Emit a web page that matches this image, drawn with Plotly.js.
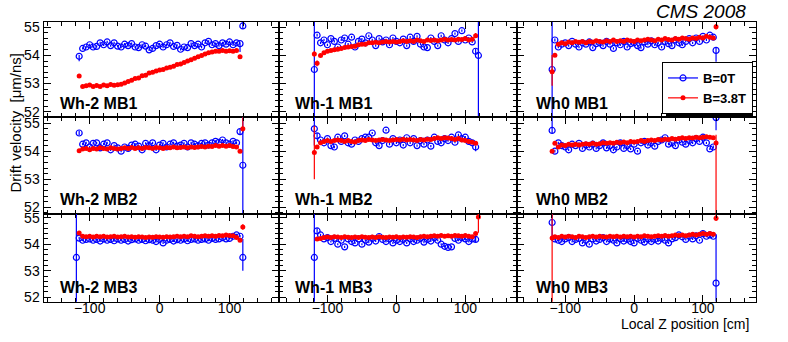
<!DOCTYPE html>
<html>
<head>
<meta charset="utf-8">
<script src="https://cdn.plot.ly/plotly-3.0.1.min.js"></script>
<style>
  html, body { margin: 0; padding: 0; background: #fff; }
  #plot { width: 788px; height: 342px; }
</style>
</head>
<body>
<div id="plot"></div>
<script>
// local z of the bins [cm]; first and last entries are the chamber edges
var zPos = [-119,
  -115, -110, -105, -100, -95, -90, -85,
  -80, -75, -70, -65, -60, -55, -50,
  -45, -40, -35, -30, -25, -20, -15,
  -10, -5, 0, 5, 10, 15, 20,
  25, 30, 35, 40, 45, 50, 55,
  60, 65, 70, 75, 80, 85, 90,
  95, 100, 105, 110, 115,
  119];

var panelNames = ['Wh-2 MB1', 'Wh-1 MB1', 'Wh0 MB1',
                  'Wh-2 MB2', 'Wh-1 MB2', 'Wh0 MB2',
                  'Wh-2 MB3', 'Wh-1 MB3', 'Wh0 MB3'];

// drift velocity [um/ns], B=0T
var b0_Wm2_MB1 = [null,
  53.97, 54.25, 54.30, 54.38, 54.30, 54.32, 54.45,
  54.38, 54.48, 54.35, 54.45, 54.33, 54.30, 54.40,
  54.35, 54.42, 54.30, 54.28, 54.38, 54.33, 54.20,
  54.25, 54.35, 54.40, 54.30, 54.38, 54.45, 54.32,
  54.36, 54.22, 54.30, 54.28, 54.42, 54.35, 54.40,
  54.30, 54.45, 54.50, 54.38, 54.42, 54.35, 54.45,
  54.40, 54.48, 54.38, 54.45, 54.42,
  55.05];
var b0_Wm1_MB1 = [53.50,
  54.72, 54.45, 54.55, 54.38, 54.60, 54.50, 54.30,
  54.55, 54.62, 54.40, 54.65, 54.30, 54.50, 54.58,
  54.45, 54.70, 54.55, 54.35, 54.60, 54.48, 54.55,
  54.38, 54.62, 54.50, 54.45, 54.58, 54.35, 54.65,
  54.50, 54.68, 54.40, 54.30, 54.28, 54.62, 54.50,
  54.35, 54.70, 54.55, 54.45, 54.60, 54.78, 54.50,
  54.88, 54.55, 54.62, 54.48, 54.15,
  54.00];
var b0_W0_MB1 = [53.50,
  54.55, 54.30, 54.40, 54.45, 54.35, 54.50, 54.40,
  54.30, 54.45, 54.40, 54.48, 54.28, 54.42, 54.45,
  54.35, 54.50, 54.40, 54.25, 54.45, 54.38, 54.50,
  54.30, 54.42, 54.45, 54.35, 54.28, 54.48, 54.40,
  54.52, 54.38, 54.45, 54.30, 54.50, 54.42, 54.35,
  54.55, 54.45, 54.38, 54.50, 54.60, 54.45, 54.62,
  54.50, 54.68, 54.55, 54.72, 54.65,
  54.18];
var b0_Wm2_MB2 = [null,
  54.65, 54.25, 54.30, 54.15, 54.28, 54.30, 54.12,
  54.25, 54.30, 54.05, 54.20, 54.12, 54.00, 54.15,
  54.10, 54.22, 54.25, 54.18, 54.05, 54.28, 54.20,
  54.30, 54.05, 54.22, 54.28, 54.15, 54.25, 54.30,
  54.18, 54.22, 54.28, 54.15, 54.30, 54.25, 54.20,
  54.28, 54.30, 54.22, 54.30, 54.35, 54.32, 54.40,
  54.30, 54.25, 54.35, 54.30, 54.70,
  53.50];
var b0_Wm1_MB2 = [54.80,
  54.55, 54.40, 54.30, 54.45, 54.20, 54.15, 54.50,
  54.35, 54.55, 54.30, 54.25, 54.40, 54.35, 54.45,
  54.50, 54.50, 54.65, 54.30, 54.20, 54.38, 54.75,
  54.25, 54.45, 54.30, 54.40, 54.22, 54.48, 54.30,
  54.45, 54.20, 54.38, 54.25, 54.40, 54.18, 54.50,
  54.35, 54.30, 54.45, 54.38, 54.50, 54.32, 54.58,
  54.45, 54.50, 54.35, 54.30, 54.15,
  null];
var b0_W0_MB2 = [54.74,
  54.00, 54.30, 54.20, 54.15, 54.05, 54.25, 54.20,
  54.28, 54.10, 54.22, 54.15, 54.25, 54.10, 54.20,
  54.30, 54.12, 54.20, 54.05, 54.15, 54.30, 54.10,
  54.20, 54.08, 54.25, 54.00, 54.30, 54.35, 54.22,
  54.30, 54.18, 54.35, 54.40, 54.48, 54.25, 54.30,
  54.20, 54.40, 54.32, 54.25, 54.38, 54.30, 54.45,
  54.35, 54.50, 54.30, 54.08, 54.15,
  55.20];
var b0_Wm2_MB3 = [53.50,
  54.23, 54.15, 54.18, 54.20, 54.15, 54.18, 54.12,
  54.20, 54.15, 54.18, 54.13, 54.20, 54.15, 54.18,
  54.12, 54.17, 54.20, 54.15, 54.18, 54.13, 54.17,
  54.15, 54.10, 54.18, 54.05, 54.15, 54.18, 54.12,
  54.17, 54.15, 54.20, 54.13, 54.18, 54.20, 54.15,
  54.18, 54.20, 54.15, 54.22, 54.18, 54.20, 54.25,
  54.20, 54.22, 54.30, 54.35, 54.30,
  53.50];
var b0_Wm1_MB3 = [53.50,
  54.50, 54.35, 54.20, 54.25, 54.10, 54.22, 54.00,
  54.15, 53.90, 54.20, 54.10, 54.05, 54.20, 54.00,
  54.15, 54.08, 54.22, 54.12, 54.29, 54.18, 54.10,
  54.20, 54.05, 54.15, 54.10, 54.18, 54.05, 54.20,
  54.10, 54.15, 54.22, 54.08, 54.18, 54.12, 54.25,
  54.15, 54.00, 53.92, 53.88, 53.90, 54.22, 54.15,
  54.25, 54.20, 54.10, 54.20, 54.18,
  null];
var b0_W0_MB3 = [54.82,
  54.20, 54.15, 54.10, 54.20, 54.25, 54.10, 54.18,
  54.22, 54.05, 54.15, 54.00, 54.20, 54.12, 54.18,
  54.25, 54.10, 54.20, 54.15, 54.05, 54.20, 54.12,
  54.18, 54.10, 54.05, 54.22, 54.15, 54.08, 54.20,
  54.10, 54.18, 54.12, 54.22, 54.15, 54.05, 54.20,
  54.25, 54.35, 54.28, 54.18, 54.30, 54.20, 54.32,
  54.15, 54.40, 54.30, 54.35, 54.30,
  52.53];

// drift velocity [um/ns], B=3.8T
var b38_Wm2_MB1 = [null,
  53.27, 52.90, 52.92, 52.95, 52.90, 52.93, 52.90,
  52.95, 52.92, 52.97, 52.94, 52.96, 52.98, 53.02,
  53.07, 53.12, 53.18, 53.20, 53.28, 53.30, 53.38,
  53.40, 53.45, 53.48, 53.50, 53.55, 53.58, 53.62,
  53.68, 53.70, 53.75, 53.80, 53.85, 53.90, 53.95,
  54.00, 54.05, 54.10, 54.12, 54.15, 54.15, 54.18,
  54.15, 54.17, 54.15, 54.18, 53.95,
  null];
var b38_Wm1_MB1 = [54.05,
  53.72, 54.00, 54.10, 54.15, 54.18, 54.20, 54.22,
  54.25, 54.28, 54.30, 54.32, 54.33, 54.38, 54.40,
  54.40, 54.45, 54.45, 54.47, 54.45, 54.48, 54.50,
  54.48, 54.50, 54.48, 54.50, 54.52, 54.50, 54.52,
  54.50, 54.55, 54.52, 54.50, 54.55, 54.53, 54.55,
  54.52, 54.55, 54.58, 54.55, 54.57, 54.55, 54.58,
  54.57, 54.60, 54.55, 54.58, 54.70,
  null];
var b38_W0_MB1 = [53.42,
  54.01, 54.40, 54.45, 54.42, 54.48, 54.45, 54.50,
  54.47, 54.50, 54.45, 54.50, 54.48, 54.52, 54.50,
  54.48, 54.52, 54.50, 54.55, 54.50, 54.52, 54.50,
  54.55, 54.52, 54.50, 54.55, 54.52, 54.55, 54.58,
  54.55, 54.52, 54.58, 54.55, 54.60, 54.57, 54.55,
  54.60, 54.58, 54.62, 54.60, 54.58, 54.62, 54.60,
  54.65, 54.62, 54.68, 54.65, 54.62,
  55.02];
var b38_Wm2_MB2 = [null,
  54.02, 54.08, 54.10, 54.05, 54.10, 54.08, 54.12,
  54.10, 54.08, 54.12, 54.10, 54.08, 54.10, 54.12,
  54.10, 54.13, 54.10, 54.12, 54.10, 54.13, 54.12,
  54.10, 54.13, 54.12, 54.10, 54.13, 54.12, 54.15,
  54.12, 54.13, 54.15, 54.12, 54.15, 54.13, 54.15,
  54.17, 54.15, 54.18, 54.17, 54.20, 54.18, 54.20,
  54.18, 54.20, 54.17, 54.15, 54.00,
  54.80];
var b38_Wm1_MB2 = [53.95,
  54.15, 54.30, 54.35, 54.38, 54.35, 54.38, 54.40,
  54.38, 54.35, 54.38, 54.35, 54.33, 54.38, 54.40,
  54.38, 54.42, 54.40, 54.38, 54.40, 54.42, 54.40,
  54.38, 54.40, 54.42, 54.40, 54.43, 54.40, 54.42,
  54.40, 54.38, 54.42, 54.40, 54.43, 54.42, 54.45,
  54.48, 54.45, 54.48, 54.47, 54.45, 54.42, 54.45,
  54.40, 54.38, 54.35, 54.32, 54.28,
  null];
var b38_W0_MB2 = [54.00,
  54.28, 54.15, 54.22, 54.20, 54.25, 54.22, 54.25,
  54.22, 54.25, 54.27, 54.25, 54.28, 54.25, 54.27,
  54.30, 54.28, 54.30, 54.28, 54.32, 54.30, 54.33,
  54.30, 54.35, 54.33, 54.35, 54.38, 54.35, 54.38,
  54.40, 54.38, 54.42, 54.40, 54.43, 54.42, 54.45,
  54.43, 54.45, 54.48, 54.45, 54.48, 54.47, 54.50,
  54.48, 54.50, 54.52, 54.50, 54.48,
  54.29];
var b38_Wm2_MB3 = [null,
  54.42, 54.30, 54.28, 54.30, 54.27, 54.30, 54.28,
  54.30, 54.27, 54.28, 54.30, 54.27, 54.28, 54.30,
  54.27, 54.28, 54.26, 54.28, 54.27, 54.25, 54.27,
  54.26, 54.28, 54.27, 54.26, 54.28, 54.27, 54.28,
  54.30, 54.28, 54.30, 54.28, 54.32, 54.30, 54.28,
  54.30, 54.32, 54.30, 54.32, 54.30, 54.33, 54.32,
  54.35, 54.33, 54.32, 54.25, 54.15,
  54.65];
var b38_Wm1_MB3 = [null,
  54.20, 54.22, 54.25, 54.27, 54.25, 54.28, 54.27,
  54.25, 54.28, 54.26, 54.25, 54.27, 54.25, 54.28,
  54.26, 54.25, 54.27, 54.25, 54.28, 54.26, 54.25,
  54.27, 54.26, 54.28, 54.25, 54.27, 54.26, 54.28,
  54.27, 54.25, 54.28, 54.30, 54.28, 54.30, 54.32,
  54.30, 54.33, 54.30, 54.32, 54.30, 54.33, 54.32,
  54.30, 54.33, 54.30, 54.28, 54.40,
  55.03];
var b38_W0_MB3 = [54.23,
  54.28, 54.25, 54.30, 54.27, 54.30, 54.28, 54.25,
  54.30, 54.28, 54.25, 54.28, 54.30, 54.27, 54.30,
  54.28, 54.27, 54.30, 54.28, 54.30, 54.27, 54.30,
  54.28, 54.30, 54.27, 54.30, 54.28, 54.32, 54.30,
  54.28, 54.30, 54.32, 54.30, 54.33, 54.30, 54.32,
  54.35, 54.33, 54.35, 54.32, 54.35, 54.38, 54.35,
  54.38, 54.40, 54.38, 54.40, 54.38,
  54.98];

// errors [up, down] of the two outermost bins on each side; inner bins use errInner
var errInner = 0.04;
var edgeErrB0 = [
  [[0, 0], [0.05, 0.18], [0.05, 0.3], [0.3, 0.1]],
  [[5, 5], [0.05, 0.05], [0.1, 0.1], [5, 5]],
  [[5, 5], [0.05, 0.05], [0.05, 0.05], [0.1, 0.4]],
  [[0, 0], [0.08, 0.08], [0.1, 0.1], [5, 5]],
  [[0.6, 0.6], [0.1, 0.1], [0.05, 0.15], [0, 0]],
  [[1, 0.1], [0.05, 0.05], [0.05, 0.05], [0.2, 0.45]],
  [[5, 5], [0.05, 0.05], [0.05, 0.05], [0.7, 0.5]],
  [[5, 5], [0.1, 0.1], [0.1, 0.1], [0, 0]],
  [[1, 0.7], [0.05, 0.05], [0.05, 0.05], [1.85, 0.7]]
];
var edgeErrB38 = [
  [[0, 0], [0.05, 0.05], [0.05, 0.05], [0, 0]],
  [[0.1, 0.1], [0.1, 0.1], [0.1, 0.05], [0, 0]],
  [[0.6, 0.5], [0.05, 0.05], [0.05, 0.05], [0.1, 0.1]],
  [[0, 0], [0.05, 0.05], [0.05, 0.05], [1, 0.1]],
  [[0.95, 0.95], [0.05, 0.05], [0.05, 0.05], [0, 0]],
  [[0.05, 0.05], [0.05, 0.05], [0.05, 0.05], [0.3, 3]],
  [[0, 0], [0.05, 0.05], [0.05, 0.05], [0.1, 0.1]],
  [[0, 0], [0.05, 0.05], [0.05, 0.1], [0.2, 0.6]],
  [[3, 3], [0.05, 0.05], [0.05, 0.05], [3, 0.1]]
];

var seriesB0 = [b0_Wm2_MB1, b0_Wm1_MB1, b0_W0_MB1, b0_Wm2_MB2, b0_Wm1_MB2, b0_W0_MB2,
                b0_Wm2_MB3, b0_Wm1_MB3, b0_W0_MB3];
var seriesB38 = [b38_Wm2_MB1, b38_Wm1_MB1, b38_W0_MB1, b38_Wm2_MB2, b38_Wm1_MB2, b38_W0_MB2,
                 b38_Wm2_MB3, b38_Wm1_MB3, b38_W0_MB3];

// ---- page geometry (pixels of the 788x342 canvas)
var W = 788, H = 342;
var FONT = 'Liberation Sans, Arial, Helvetica, sans-serif';
var colPx = [[43.5, 278.5], [278.5, 517], [517, 756]];
var rowPx = [[22, 117.3], [117.3, 214], [214, 301.7]];
var xRanges = [[-166, 170], [-171, 175], [-170, 177]];
var yRanges = [[51.8, 55.19], [51.76, 55.21], [51.83, 55.14]];
var labelX = [0.063, 0.06, 0.071];
var labelY = [0.145, 0.145, 0.16];

function errArrays(edge, n) {
  var up = [], dn = [];
  for (var i = 0; i < n; i++) { up.push(errInner); dn.push(errInner); }
  [0, 1, n - 2, n - 1].forEach(function (k, j) {
    up[k] = edge[j][0];
    dn[k] = edge[j][1];
  });
  return {up: up, dn: dn};
}

var blueMarker = {symbol: 'circle-open', size: 6, color: 'rgb(0,0,255)', line: {width: 1.2, color: 'rgb(0,0,255)'}};
var redMarker = {symbol: 'circle', size: 5, color: 'rgb(255,0,0)'};

var data = [];
var layout = {
  width: W, height: H, autosize: false,
  margin: {l: 0, r: 0, t: 0, b: 0},
  paper_bgcolor: 'white', plot_bgcolor: 'white',
  font: {family: FONT, color: 'black'},
  showlegend: true,
  legend: {
    x: 662 / W, y: 1 - 62 / H, xanchor: 'left', yanchor: 'top',
    bgcolor: 'white', bordercolor: 'black', borderwidth: 1,
    font: {family: FONT, size: 13, weight: 700, color: 'black'},
    itemwidth: 30, traceorder: 'normal'
  },
  annotations: [],
  shapes: []
};

for (var p = 0; p < 9; p++) {
  var row = Math.floor(p / 3), col = p % 3;
  var s = p === 0 ? '' : String(p + 1);
  var xa = 'x' + s, ya = 'y' + s;
  var eB0 = errArrays(edgeErrB0[p], zPos.length);
  var eB38 = errArrays(edgeErrB38[p], zPos.length);

  data.push({
    type: 'scatter', mode: 'markers', x: zPos, y: seriesB0[p],
    xaxis: xa, yaxis: ya, showlegend: false, name: 'B=0T',
    marker: blueMarker,
    error_y: {type: 'data', symmetric: false, array: eB0.up, arrayminus: eB0.dn,
              color: 'rgb(0,0,255)', thickness: 1.2, width: 0}
  });
  data.push({
    type: 'scatter', mode: 'markers', x: zPos, y: seriesB38[p],
    xaxis: xa, yaxis: ya, showlegend: false, name: 'B=3.8T',
    marker: redMarker,
    error_y: {type: 'data', symmetric: false, array: eB38.up, arrayminus: eB38.dn,
              color: 'rgb(255,0,0)', thickness: 1.2, width: 0}
  });

  layout['xaxis' + s] = {
    domain: [colPx[col][0] / W, colPx[col][1] / W],
    range: xRanges[col], anchor: ya,
    showline: true, linecolor: 'black', linewidth: 1, mirror: 'ticks',
    ticks: 'inside', ticklen: 7, tickwidth: 1, tickcolor: 'black',
    tick0: 0, dtick: 100,
    minor: {dtick: 20, ticks: 'inside', ticklen: 4, tickwidth: 1, tickcolor: 'black', showgrid: false},
    showgrid: false, zeroline: false,
    showticklabels: row === 2, ticklabelstandoff: -7,
    tickfont: {family: FONT, size: 14, color: 'black'}
  };
  layout['yaxis' + s] = {
    domain: [1 - rowPx[row][1] / H, 1 - rowPx[row][0] / H],
    range: yRanges[row], anchor: xa,
    showline: true, linecolor: 'black', linewidth: 1, mirror: 'ticks',
    ticks: 'inside', ticklen: 7, tickwidth: 1, tickcolor: 'black',
    tick0: 52, dtick: 1,
    minor: {dtick: 0.2, ticks: 'inside', ticklen: 4, tickwidth: 1, tickcolor: 'black', showgrid: false},
    showgrid: false, zeroline: false,
    showticklabels: col === 0,
    tickfont: {family: FONT, size: 14, color: 'black'}
  };

  layout.annotations.push({
    text: panelNames[p], xref: xa + ' domain', yref: ya + ' domain',
    x: labelX[col], y: labelY[row], xanchor: 'left', yanchor: 'middle',
    showarrow: false, font: {family: FONT, size: 16, weight: 700, color: 'black'}
  });
}

// legend entries (no points of their own)
data.push({type: 'scatter', mode: 'lines+markers', x: [null], y: [null], name: 'B=0T',
  marker: blueMarker, line: {color: 'rgb(0,0,255)', width: 1.2}});
data.push({type: 'scatter', mode: 'lines+markers', x: [null], y: [null], name: 'B=3.8T',
  marker: redMarker, line: {color: 'rgb(255,0,0)', width: 1.2}});

// legend shadow
layout.shapes.push({
  type: 'rect', xref: 'paper', yref: 'paper', layer: 'above',
  x0: 666 / W, x1: 753 / W, y0: 1 - 118 / H, y1: 1 - 66 / H,
  fillcolor: 'black', line: {width: 0}
});

layout.annotations.push({
  text: 'CMS 2008', xref: 'paper', yref: 'paper', x: 748 / W, y: 1 - 11.5 / H,
  xanchor: 'right', yanchor: 'middle', showarrow: false,
  font: {family: FONT, size: 19, style: 'italic', color: 'black'}
});
layout.annotations.push({
  text: 'Local Z position [cm]', xref: 'paper', yref: 'paper', x: 751 / W, y: 1 - 324 / H,
  xanchor: 'right', yanchor: 'middle', showarrow: false,
  font: {family: FONT, size: 14, color: 'black'}
});
layout.annotations.push({
  text: 'Drift velocity \u00a0[\u03bcm/ns]', xref: 'paper', yref: 'paper', x: 14.5 / W, y: 1 - 123 / H,
  xanchor: 'center', yanchor: 'middle', textangle: -90, showarrow: false,
  font: {family: FONT, size: 15, color: 'black'}
});

Plotly.newPlot('plot', data, layout, {displayModeBar: false, staticPlot: true});
</script>
</body>
</html>
